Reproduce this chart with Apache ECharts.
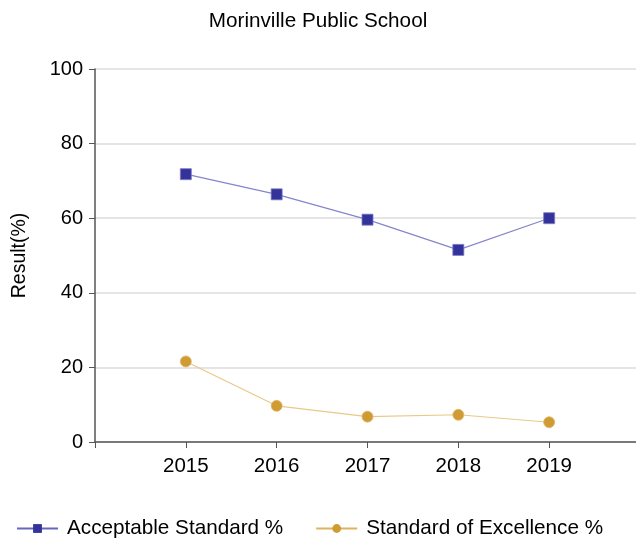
<!DOCTYPE html>
<html><head><meta charset="utf-8">
<script src="https://cdn.jsdelivr.net/npm/echarts@6/dist/echarts.min.js"></script>
<style>html,body{margin:0;padding:0;background:#fff}#c{width:636px;height:540px}</style>
</head><body><div id="c"></div>
<script>
var years = [2015, 2016, 2017, 2018, 2019];
var acceptable = [71.8, 66.4, 59.6, 51.5, 60.0];
var excellence = [21.6, 9.7, 6.8, 7.3, 5.3];
var yTicks = [0, 20, 40, 60, 80, 100];
var title = 'Morinville Public School';
var seriesNames = ['Acceptable Standard %', 'Standard of Excellence %'];

var chart = echarts.init(document.getElementById('c'), null, {renderer: 'canvas'});
var font = 'Liberation Sans, Arial, sans-serif';
function pairs(v){ return years.map(function(y,i){ return [y, v[i]]; }); }
chart.setOption({
  animation: false,
  title: { text: title, left: 'center', top: 6, textStyle: { fontFamily: font, fontSize: 20.7, fontWeight: 'normal', color: '#000' } },
  legend: {
    bottom: 1, left: 16, padding: 0, itemGap: 32, itemWidth: 41, itemHeight: 11,
    textStyle: { fontFamily: font, fontSize: 20.7, color: '#000', padding: [0, 0, 0, 4] },
    itemStyle: { borderWidth: 0 },
    data: [
      { name: seriesNames[0], lineStyle: { color: '#6666bb', width: 2 } },
      { name: seriesNames[1], lineStyle: { color: '#ddb45e', width: 2 } }
    ]
  },
  grid: { left: 95, width: 545, top: 69, height: 373, outerBoundsMode: 'none', containLabel: false },
  xAxis: {
    type: 'value', min: 2014, max: 2020, interval: 1,
    axisLine: { show: true, lineStyle: { color: '#555', width: 1.5 } },
    axisTick: { show: true, length: 6, lineStyle: { color: '#555' } },
    splitLine: { show: false },
    axisLabel: { fontFamily: font, fontSize: 20.5, color: '#000', margin: 14,
      formatter: function(v){ return years.indexOf(v) >= 0 ? String(v) : ''; } }
  },
  yAxis: {
    type: 'value', min: yTicks[0], max: yTicks[yTicks.length-1], interval: 20,
    name: 'Result(%)', nameLocation: 'middle', nameGap: 65, nameRotate: 90,
    nameTextStyle: { fontFamily: font, fontSize: 19.5, color: '#000' },
    axisLine: { show: true, lineStyle: { color: '#555', width: 1.5 } },
    axisTick: { show: true, length: 6, lineStyle: { color: '#555' } },
    splitLine: { show: true, lineStyle: { color: '#dcdcdc', width: 1.5 } },
    axisLabel: { fontFamily: font, fontSize: 20, color: '#000', margin: 12 }
  },
  series: [
    { name: seriesNames[0], type: 'line', data: pairs(acceptable), symbol: 'rect', symbolSize: 11,
      itemStyle: { color: '#333399', borderColor: '#7a7acc', borderWidth: 0.8 },
      lineStyle: { color: '#8585cc', width: 1.2 } },
    { name: seriesNames[1], type: 'line', data: pairs(excellence), symbol: 'circle', symbolSize: 11,
      itemStyle: { color: '#d09b33', borderColor: '#e0b865', borderWidth: 0.8 },
      lineStyle: { color: '#e8c98a', width: 1.2 } }
  ]
});
</script></body></html>
